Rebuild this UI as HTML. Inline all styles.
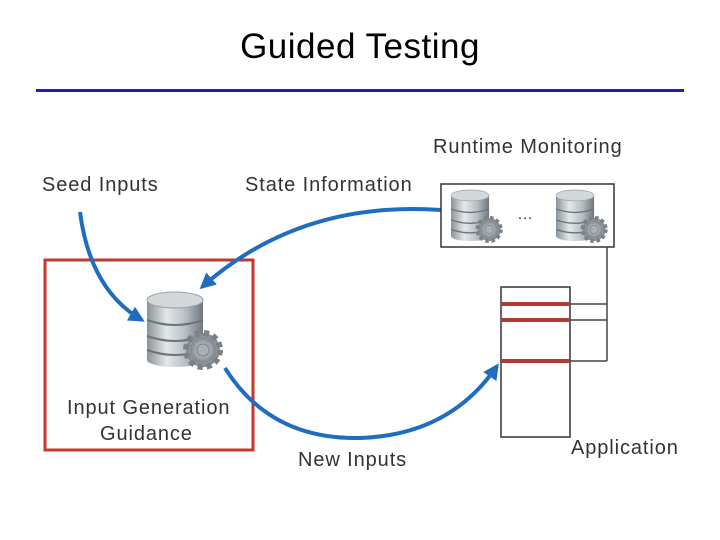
<!DOCTYPE html>
<html><head><style>
body{margin:0;background:#fff;}
svg{display:block;}
text{font-family:"Liberation Sans",sans-serif;fill:#333;}
.l{font-size:20px;letter-spacing:0.9px;}
</style></head><body>
<svg width="720" height="540" viewBox="0 0 720 540">
<defs>
<linearGradient id="cyl" x1="0" x2="1">
<stop offset="0" stop-color="#8a9399"/><stop offset="0.35" stop-color="#e4e8ea"/><stop offset="0.7" stop-color="#b5bcc1"/><stop offset="1" stop-color="#6e777d"/></linearGradient>
<radialGradient id="gear"><stop offset="0" stop-color="#d8dcdf"/><stop offset="1" stop-color="#7d868c"/></radialGradient>
<marker id="ah" viewBox="0 0 10 10" refX="8" refY="5" markerWidth="4" markerHeight="4" orient="auto"><path d="M0,0 L10,5 L0,10z" fill="#1f6cc0"/></marker>
<g id="db">
<rect x="0" y="8" width="56" height="60" fill="url(#cyl)"/>
<ellipse cx="28" cy="68" rx="28" ry="7" fill="url(#cyl)"/>
<ellipse cx="28" cy="8" rx="28" ry="8" fill="#d3d8db" stroke="#9aa2a7"/>
<path d="M0,28 Q28,38 56,28 M0,44 Q28,54 56,44 M0,58 Q28,68 56,58" stroke="#6c757b" stroke-width="2" fill="none"/>
<g transform="translate(56,58)">
<circle r="17" fill="url(#gear)" stroke="#7a8288" stroke-width="6" stroke-dasharray="5 4"/>
<circle r="13" fill="url(#gear)"/>
<circle r="6" fill="#a9b1b6" stroke="#7a8288"/>
</g>
</g>
</defs>
<text x="360" y="58" font-size="35" text-anchor="middle" style="font-family:'Liberation Sans',sans-serif;fill:#000;letter-spacing:0.5px">Guided Testing</text>
<rect x="36" y="89" width="648" height="3" fill="#1c1ccc"/>

<text class="l" x="433" y="153">Runtime Monitoring</text>
<text class="l" x="42" y="191">Seed Inputs</text>
<text class="l" x="245" y="191">State Information</text>
<text class="l" x="67" y="414">Input Generation</text>
<text class="l" x="100" y="440">Guidance</text>
<text class="l" x="298" y="466">New Inputs</text>
<text class="l" x="571" y="454">Application</text>

<rect x="45" y="260" width="208" height="190" fill="none" stroke="#c0392b" stroke-width="3"/>

<path d="M80,212 Q90,290 142,320" stroke="#1f6cc0" stroke-width="4" fill="none" marker-end="url(#ah)"/>
<path d="M441,210 Q300,200 202,287" stroke="#1f6cc0" stroke-width="4" fill="none" marker-end="url(#ah)"/>
<path d="M225,368 Q270,440 360,438 Q450,435 497,366" stroke="#1f6cc0" stroke-width="4" fill="none" marker-end="url(#ah)"/>

<rect x="441" y="184" width="173" height="63" fill="#fff" stroke="#333" stroke-width="1.5"/>
<g transform="translate(451,190) scale(0.68)"><use href="#db"/></g>
<g transform="translate(556,190) scale(0.68)"><use href="#db"/></g>
<text x="517" y="219" font-size="16">…</text>

<g transform="translate(147,292)"><use href="#db"/></g>

<rect x="501" y="287" width="69" height="150" fill="#fff" stroke="#333" stroke-width="1.5"/>
<path d="M607,247 V361 M570,304 H607 M570,320 H607 M570,361 H607" stroke="#444" stroke-width="1.5" fill="none"/>
<rect x="501" y="302" width="69" height="4" fill="#b03a36"/>
<rect x="501" y="318" width="69" height="4" fill="#b03a36"/>
<rect x="501" y="359" width="69" height="4" fill="#b03a36"/>
</svg>
</body></html>
